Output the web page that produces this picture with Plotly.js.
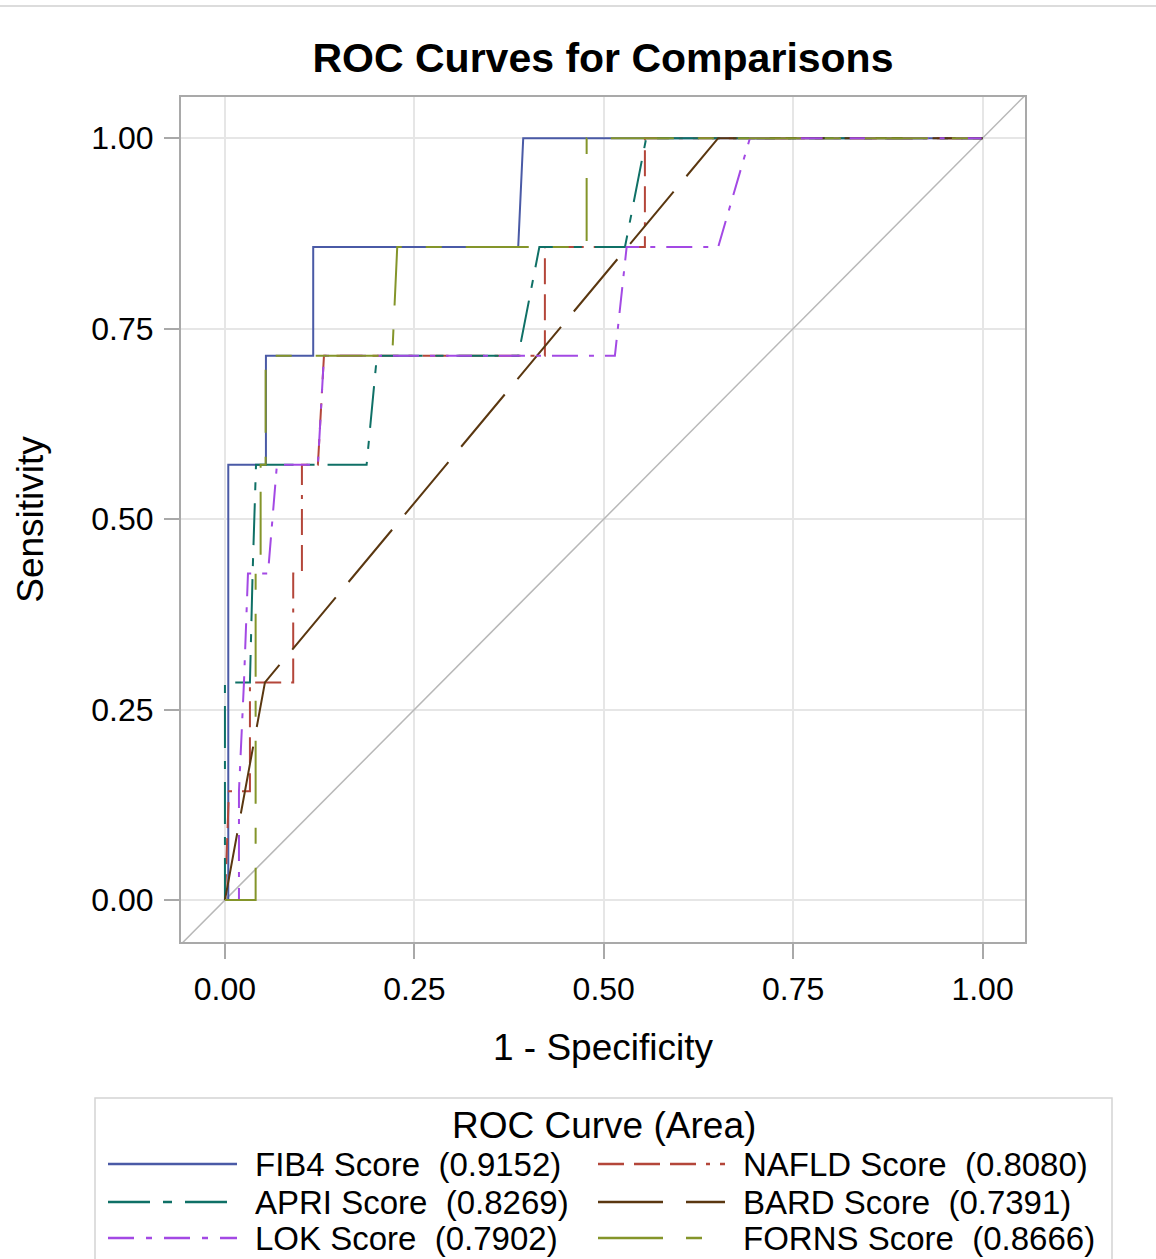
<!DOCTYPE html>
<html>
<head>
<meta charset="utf-8">
<script src="https://cdn.plot.ly/plotly-3.0.1.min.js"></script>
<style>
html,body{margin:0;padding:0;background:#ffffff;}
#chart{width:1156px;height:1259px;}
</style>
</head>
<body>
<div id="chart"></div>
<script>
// ---------- DATA ----------
const seriesNames = ['FIB4 Score', 'NAFLD Score', 'APRI Score', 'BARD Score', 'LOK Score', 'FORNS Score'];
const seriesAreas = [0.9152, 0.8080, 0.8269, 0.7391, 0.7902, 0.8666];

// 1 - Specificity (x) and Sensitivity (y) for each curve
const fib4X  = [0, 0.0044, 0.0044, 0.0541, 0.0541, 0.1165, 0.1165, 0.3871, 0.3937, 1];
const fib4Y  = [0, 0, 0.5714, 0.5714, 0.7143, 0.7143, 0.8571, 0.8571, 1, 1];

const nafldX = [0, 0.0053, 0.0330, 0.0330, 0.0901, 0.0901, 0.1016, 0.1016, 0.1227, 0.1307, 0.4223, 0.4223, 0.5543, 0.5543, 1];
const nafldY = [0, 0.1429, 0.1429, 0.2857, 0.2857, 0.4286, 0.4286, 0.5714, 0.5714, 0.7143, 0.7143, 0.8571, 0.8571, 1, 1];

const apriX  = [0, 0, 0.0330, 0.0365, 0.0410, 0.1870, 0.2006, 0.3871, 0.4150, 0.5280, 0.5560, 1];
const apriY  = [0, 0.2857, 0.2857, 0.4286, 0.5714, 0.5714, 0.7143, 0.7143, 0.8571, 0.8571, 1, 1];

const bardX  = [0, 0.0528, 0.6510, 1];
const bardY  = [0, 0.2857, 1, 1];

const lokX   = [0, 0.0185, 0.0185, 0.0251, 0.0304, 0.0568, 0.0686, 0.1227, 0.1307, 0.5147, 0.5302, 0.6510, 0.6929, 1];
const lokY   = [0, 0, 0.1429, 0.2857, 0.4286, 0.4286, 0.5714, 0.5714, 0.7143, 0.7143, 0.8571, 0.8571, 1, 1];

const fornsX = [0, 0.0405, 0.0405, 0.0471, 0.0471, 0.0537, 0.0537, 0.2208, 0.2274, 0.4774, 0.4774, 1];
const fornsY = [0, 0, 0.4286, 0.4286, 0.5714, 0.5714, 0.7143, 0.7143, 0.8571, 0.8571, 1, 1];

const axisTicks = [0, 0.25, 0.5, 0.75, 1];
const chartTitle = 'ROC Curves for Comparisons';
const xTitle = '1 - Specificity';
const yTitle = 'Sensitivity';
const legendTitle = 'ROC Curve (Area)';

// ---------- STYLES ----------
const seriesX = [fib4X, nafldX, apriX, bardX, lokX, fornsX];
const seriesY = [fib4Y, nafldY, apriY, bardY, lokY, fornsY];
const colors = ['#4a5aa6', '#b4463a', '#0f7066', '#5a3710', '#a349e4', '#84952a'];
const dashes = [
  'solid',
  '26px,10px,26px,10px,26px,10px,4px,10px',
  '42px,13px,8px,13px',
  '68px,20px',
  '26px,11px,5px,11px',
  '63px,24px,16px,24px'
];
const legendDashes = [
  'solid',
  '26px,10px,26px,10px,26px,10px,4px,10px',
  '42px,13px,9px,13px',
  '65px,23px',
  '26px,12px,6px,12px',
  '65px,23px,16px,23px'
];
// legend slot (column, row) for each series
const legendCol = [0, 1, 0, 1, 0, 1];
const legendRow = [0, 0, 1, 1, 2, 2];

const FONT = 'Liberation Sans, Arial, Helvetica, sans-serif';
const L = 181, R = 1025, T = 97, B = 942, W = 1156, H = 1259;
const px2x = p => (p - L) / (R - L);
const py2y = p => (B - p) / (B - T);

const traces = seriesNames.map((name, i) => ({
  type: 'scatter',
  mode: 'lines',
  name: name,
  x: seriesX[i],
  y: seriesY[i],
  line: {color: colors[i], width: 2, dash: dashes[i]},
  showlegend: false,
  hoverinfo: 'x+y+name'
}));

const shapes = [
  // chance diagonal
  {type: 'line', xref: 'x', yref: 'y', x0: -0.06, y0: -0.06, x1: 1.06, y1: 1.06,
   line: {color: '#b8b8b8', width: 1.5}, layer: 'between'},
  // page top separator
  {type: 'line', xref: 'paper', yref: 'paper', x0: px2x(0), x1: px2x(W), y0: py2y(6), y1: py2y(6),
   line: {color: '#dcdcdc', width: 2}},
  // legend frame
  {type: 'rect', xref: 'paper', yref: 'paper', x0: px2x(95), x1: px2x(1112), y0: py2y(1098), y1: py2y(1275),
   line: {color: '#d4d4d4', width: 1.5}, fillcolor: 'rgba(0,0,0,0)'}
];
const annotations = [
  {xref: 'paper', yref: 'paper', x: px2x(604), y: py2y(1125), xanchor: 'center', yanchor: 'middle',
   text: legendTitle, showarrow: false, font: {family: FONT, size: 37, color: '#000'}}
];
const colLineStart = [108, 598], colLineEnd = [237, 725], colText = [253, 741];
const rowY = [1164, 1202, 1238];
seriesNames.forEach((name, i) => {
  const c = legendCol[i], r = legendRow[i];
  shapes.push({type: 'line', xref: 'paper', yref: 'paper',
    x0: px2x(colLineStart[c]), x1: px2x(colLineEnd[c]), y0: py2y(rowY[r]), y1: py2y(rowY[r]),
    line: {color: colors[i], width: 2.5, dash: legendDashes[i]}});
  annotations.push({xref: 'paper', yref: 'paper', x: px2x(colText[c]), y: py2y(rowY[r]),
    xanchor: 'left', yanchor: 'middle', showarrow: false,
    text: name + '\u00a0\u00a0(' + seriesAreas[i].toFixed(4) + ')',
    font: {family: FONT, size: 33, color: '#000'}});
});

const axisCommon = {
  tickvals: axisTicks,
  tickformat: '.2f',
  showgrid: true, gridcolor: '#e6e6e6', gridwidth: 2,
  zeroline: false,
  showline: true, linecolor: '#a9a9a9', linewidth: 2, mirror: true,
  ticks: 'outside', ticklen: 15, tickwidth: 2, tickcolor: '#a9a9a9',
  tickfont: {family: FONT, size: 32, color: '#000'},
  fixedrange: true
};

const layout = {
  width: W, height: H,
  margin: {l: L, r: W - R, t: T, b: H - B, autoexpand: false},
  paper_bgcolor: '#ffffff',
  plot_bgcolor: '#ffffff',
  font: {family: FONT, color: '#000'},
  title: {text: '<b>' + chartTitle + '</b>', font: {family: FONT, size: 41, color: '#000'},
          x: 0.5, xref: 'paper', xanchor: 'center', y: 1 - 58 / H, yref: 'container', yanchor: 'middle'},
  xaxis: Object.assign({}, axisCommon, {
    range: [-0.058, 1.056],
    ticklabelstandoff: 3,
    title: {text: xTitle, font: {family: FONT, size: 37, color: '#000'}, standoff: 28}
  }),
  yaxis: Object.assign({}, axisCommon, {
    range: [-0.055, 1.054],
    ticklabelstandoff: 4,
    title: {text: yTitle, font: {family: FONT, size: 37, color: '#000'}, standoff: 36}
  }),
  shapes: shapes,
  annotations: annotations,
  showlegend: false
};

Plotly.newPlot('chart', traces, layout, {displayModeBar: false, staticPlot: true});
</script>
</body>
</html>
